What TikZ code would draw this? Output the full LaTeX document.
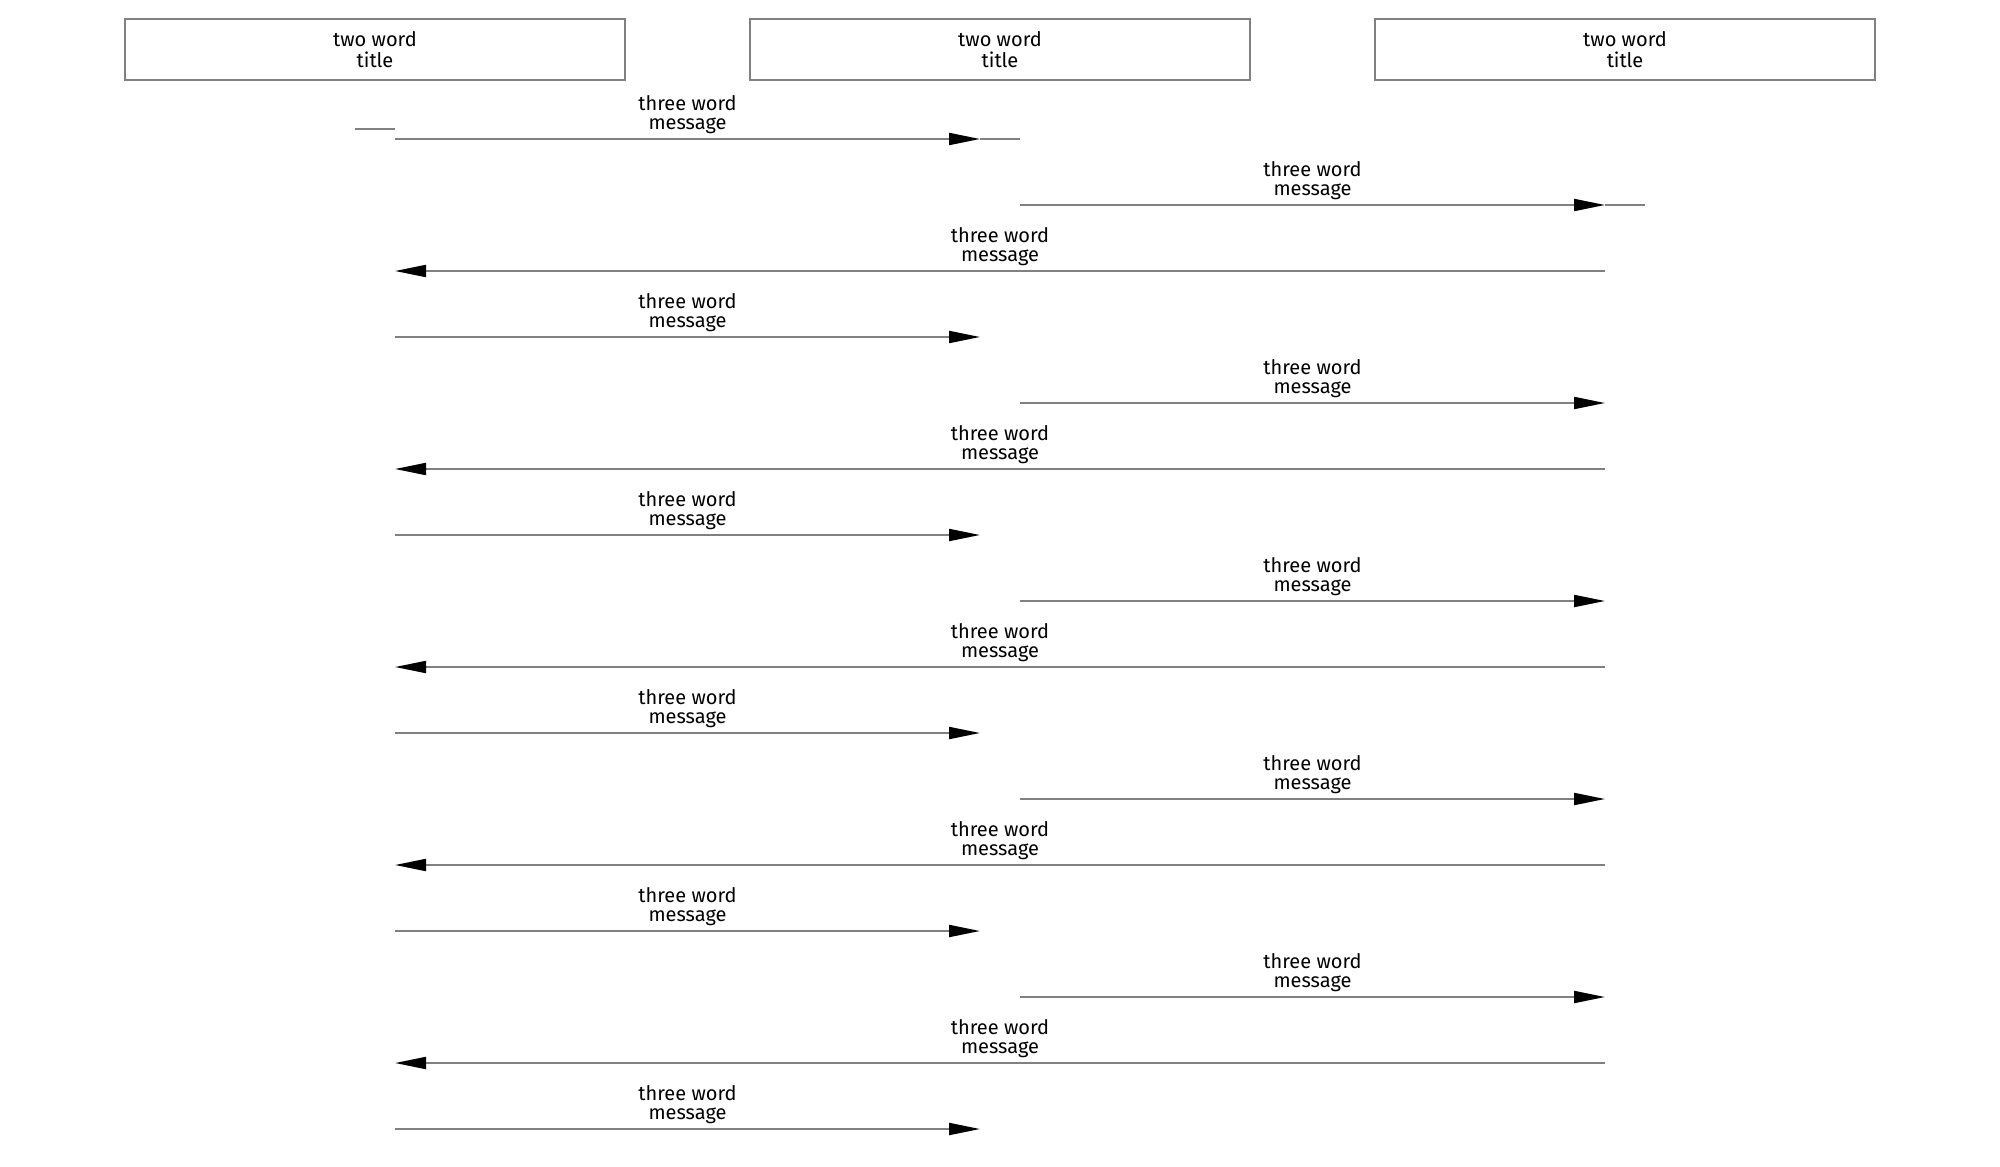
\documentclass[tikz,border=0pt]{standalone}
\usepackage{fontspec}
\setmainfont{Fira Sans}
\usepackage{tikz}
\usetikzlibrary{positioning}
\usetikzlibrary{arrows.meta}

\begin{document}
\begin{tikzpicture}[x=0.5pt,y=-0.5pt]
        \tikzstyle{title}=[draw=gray,line width=1pt,fill=white,
            minimum width=250pt,minimum height=30.5pt,inner sep=0pt,
            align=center,font=\fontsize{10pt}{10.5pt}\selectfont]
        \tikzstyle{msg}=[draw=gray,line width=1pt,
            -{Triangle[length=15.5pt,width=6pt,black,fill=black]}]
        \tikzstyle{line}=[draw=gray,line width=1pt]
        \tikzstyle{label}=[align=center,inner sep=0pt,above=2pt,
            font=\fontsize{10pt}{9.5pt}\selectfont]
            \useasboundingbox (0,0) rectangle (2000,1166);

            \node[title] (t1) at (375,49.5) {two word\\title};
            \node[title] (t2) at (1000,49.5) {two word\\title};
            \node[title] (t3) at (1625,49.5) {two word\\title};

            % messages
            \foreach \y/\a/\b in {139/395/980, 205/1020/1605, 271/1605/395,
                337/395/980, 403/1020/1605, 469/1605/395,
                535/395/980, 601/1020/1605, 667/1605/395,
                733/395/980, 799/1020/1605, 865/1605/395,
                931/395/980, 997/1020/1605, 1063/1605/395,
                1129/395/980} {
            \coordinate (s) at (\a,\y);
            \coordinate (e) at (\b,\y);
            \draw[msg] (s) -- (e)
            node[label, midway] {three word\\message};
            }

            \coordinate (k1) at (355,129);
            \coordinate (k2) at (395,129);
            \draw[line] (k1) -- (k2);
            \coordinate (m1) at (980,139);
            \coordinate (m2) at (1020,139);
            \draw[line] (m1) -- (m2);
            \coordinate (r1) at (1605,205);
            \coordinate (r2) at (1645,205);
            \draw[line] (r1) -- (r2);
        \end{tikzpicture}
\end{document}
